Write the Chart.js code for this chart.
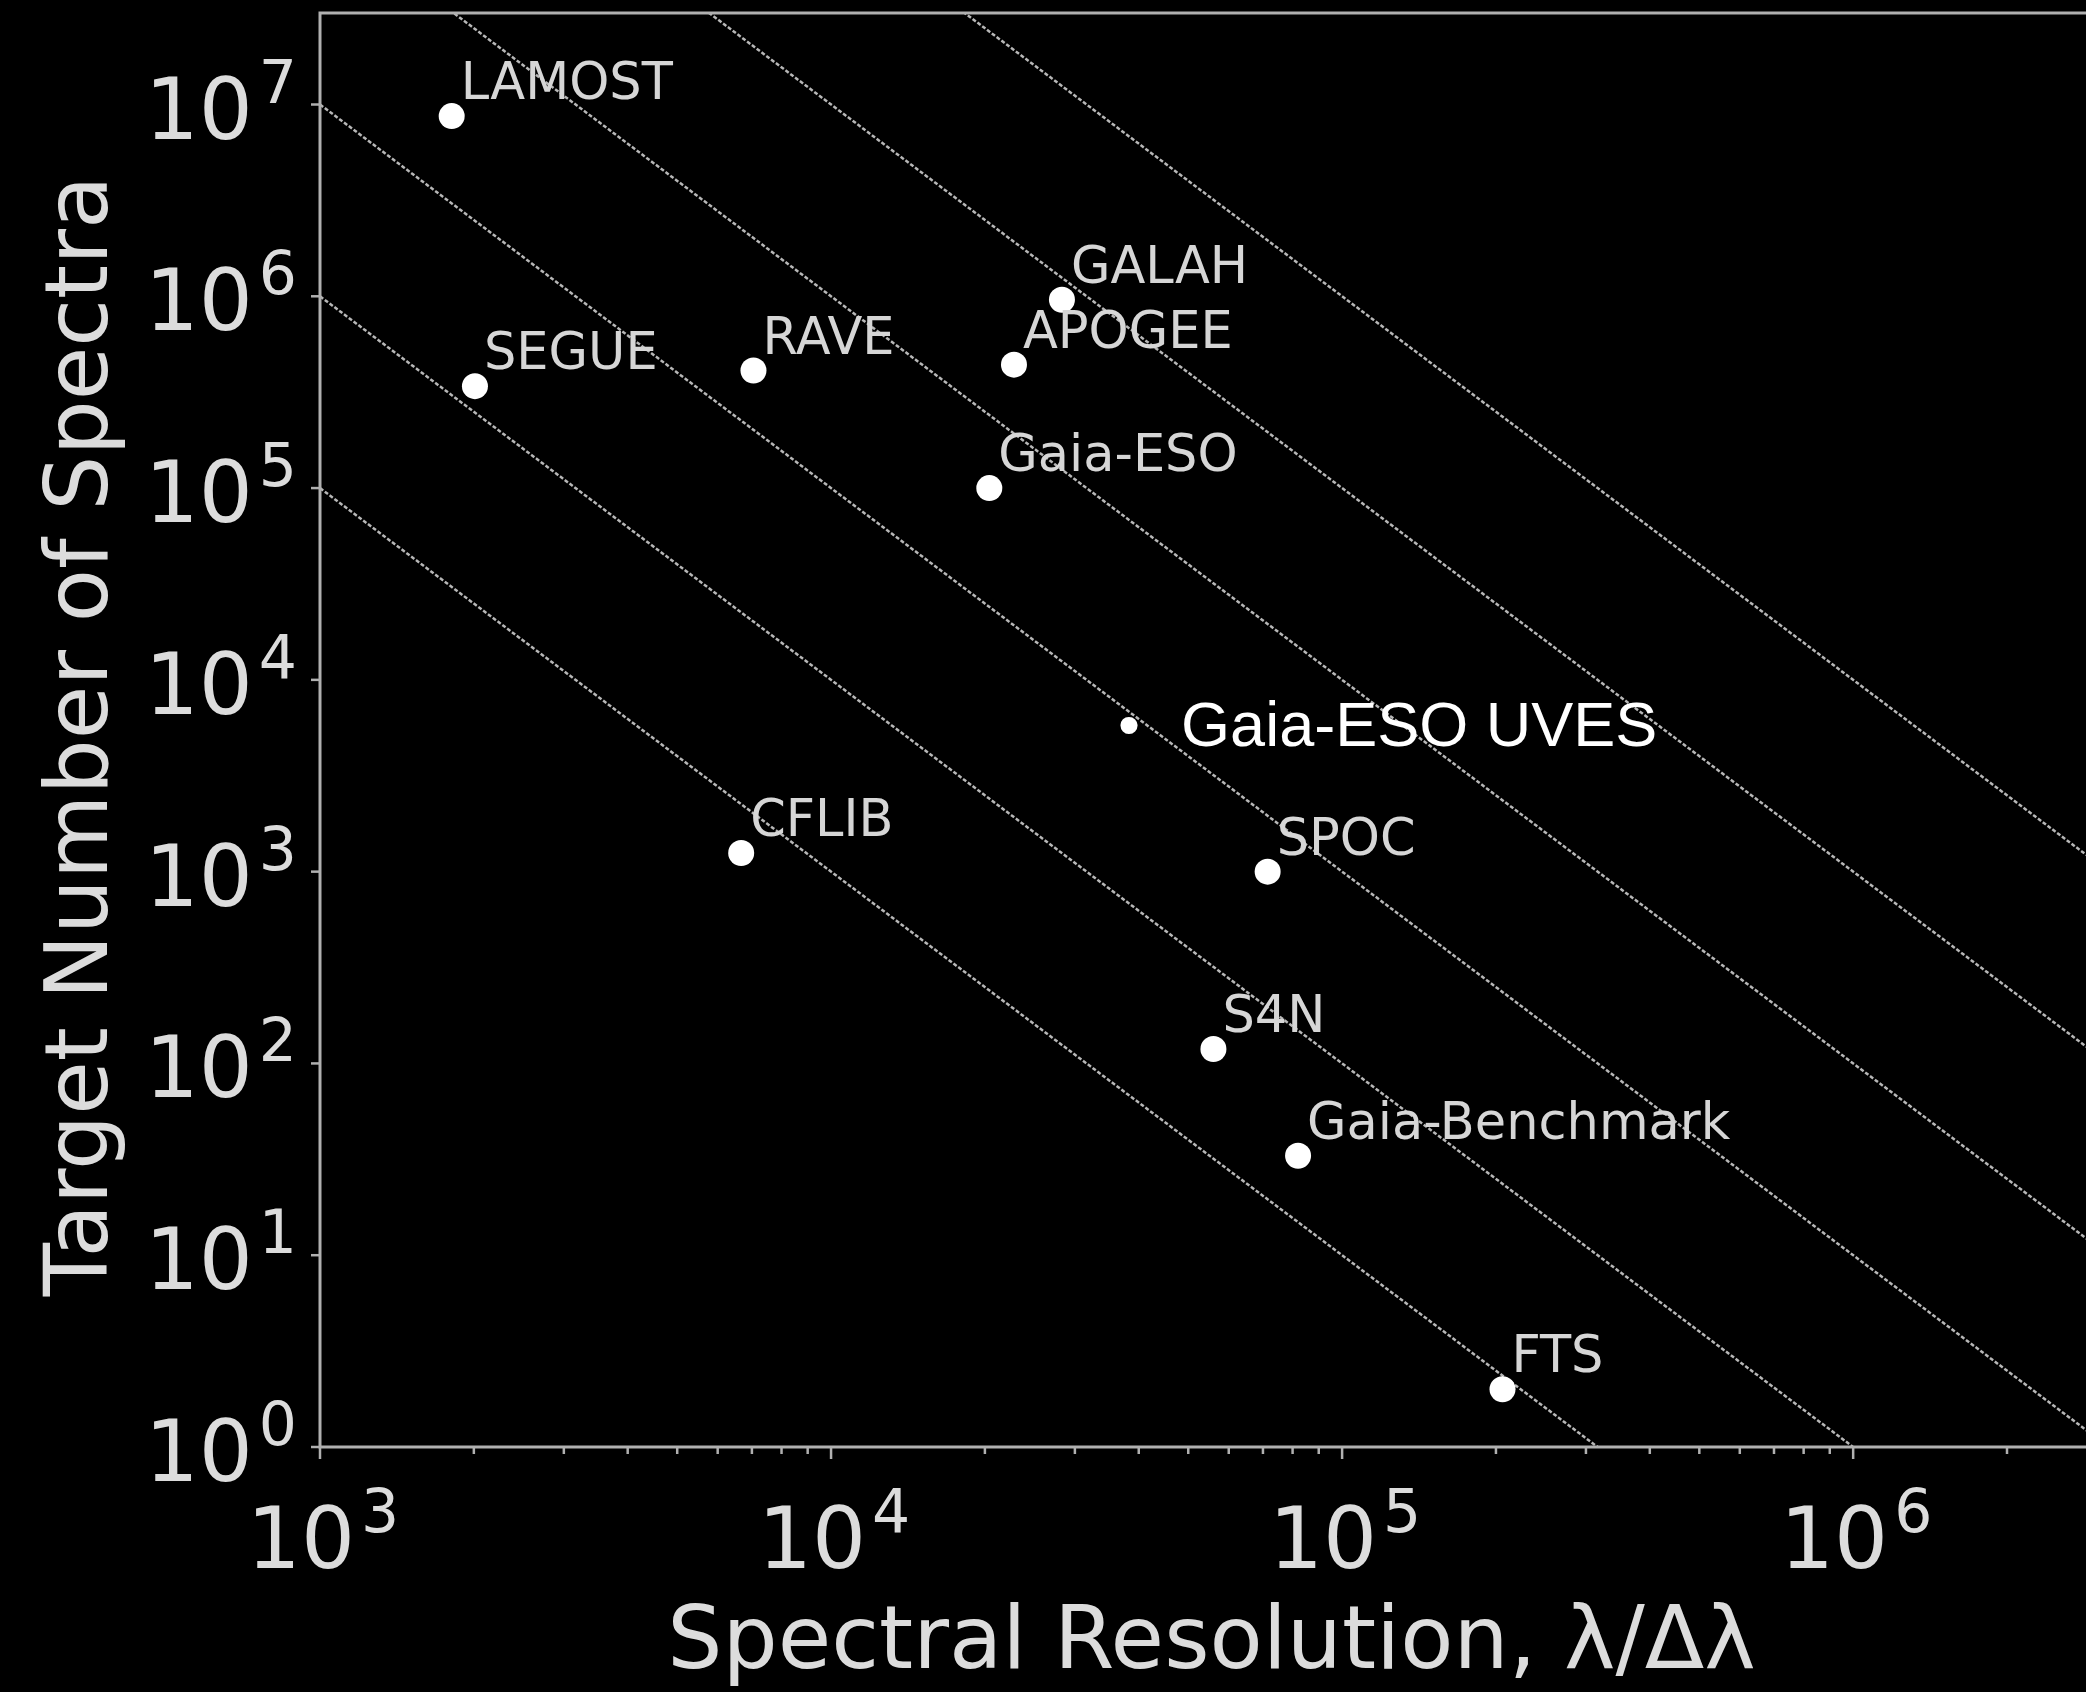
<!DOCTYPE html>
<html>
<head>
<meta charset="utf-8">
<script src="https://cdn.jsdelivr.net/npm/chart.js@4.4.0/dist/chart.umd.min.js"></script>
<style>
  html, body { margin: 0; padding: 0; background: #000; overflow: hidden; }
  #wrap { width: 2110px; height: 1692px; }
</style>
</head>
<body>
<div id="wrap"><canvas id="surveys" width="2110" height="1692"></canvas></div>
<script>
// survey data
const surveyNames = ['LAMOST', 'SEGUE', 'RAVE', 'GALAH', 'APOGEE', 'Gaia-ESO', 'CFLIB', 'SPOC', 'S4N', 'Gaia-Benchmark', 'FTS']
const resolution  = [1810, 2010, 7050, 28300, 22800, 20400, 6670, 71500, 56000, 82000, 206000]
const numSpectra  = [8.7e6, 3.4e5, 4.1e5, 9.6e5, 4.4e5, 1.0e5, 1250, 1000, 119, 33, 2]

// guide lines of constant R^2 * N
const productLevels = [1e11, 1e12, 1e13, 1e14, 1e15, 1e16]

const xLimits = [1e3, 3e6]
const yLimits = [1, 3e7]
const xTicks = [1e3, 1e4, 1e5, 1e6]
const yTicks = [1e0, 1e1, 1e2, 1e3, 1e4, 1e5, 1e6, 1e7]

const xTitle = 'Spectral Resolution, λ/Δλ'
const yTitle = 'Target Number of Spectra'

// extra note pasted on the slide
const noteText = 'Gaia-ESO UVES'
const notePos  = [38300, 5600]

const FONT = '"DejaVu Sans", sans-serif'
const TEXT = '#dcdcdc'
const SPINE = '#b0b0b0'

const surveyPoints = resolution.map((r, i) => ({ x: r, y: numSpectra[i] }))

const guideSets = productLevels.map(c => ({
    type: 'scatter',
    showLine: true,
    data: [
        { x: xLimits[0], y: c / (xLimits[0] * xLimits[0]) },
        { x: xLimits[1], y: c / (xLimits[1] * xLimits[1]) }
    ],
    borderColor: 'rgba(215,215,215,0.85)',
    borderWidth: 2.5,
    borderDash: [4, 2],
    pointRadius: 0,
    order: 2
}))

function drawPow(ctx, x, baseline, exp, align) {
    ctx.font = '85px ' + FONT
    const w1 = ctx.measureText('10').width
    ctx.font = '60px ' + FONT
    const w2 = ctx.measureText(exp).width
    const gap = 6
    const total = w1 + gap + w2
    let left = x
    if (align === 'center') left = x - total / 2
    if (align === 'right') left = x - total
    ctx.textAlign = 'left'
    ctx.textBaseline = 'alphabetic'
    ctx.font = '85px ' + FONT
    ctx.fillText('10', left, baseline)
    ctx.font = '60px ' + FONT
    ctx.fillText(exp, left + w1 + gap, baseline - 36)
}

const axesPlugin = {
    id: 'axesDecor',
    afterDatasetsDraw(chart) {
        const ctx = chart.ctx
        const area = chart.chartArea
        const xs = chart.scales.x
        const ys = chart.scales.y
        ctx.save()

        // point labels
        const meta = chart.getDatasetMeta(0)
        ctx.fillStyle = '#d6d6d6'
        ctx.font = '51px ' + FONT
        ctx.textAlign = 'left'
        ctx.textBaseline = 'alphabetic'
        meta.data.forEach((pt, i) => {
            ctx.fillText(surveyNames[i], pt.x + 9, pt.y - 17)
        })

        // frame
        ctx.strokeStyle = SPINE
        ctx.lineWidth = 3
        ctx.strokeRect(area.left, area.top, area.right - area.left, area.bottom - area.top)

        // x ticks, major and minor
        ctx.lineWidth = 2.5
        for (let e = 3; e <= 6; e++) {
            for (let k = 1; k <= 9; k++) {
                const v = k * Math.pow(10, e)
                if (v > xLimits[1]) break
                const px = xs.getPixelForValue(v)
                ctx.beginPath()
                ctx.moveTo(px, area.bottom)
                ctx.lineTo(px, area.bottom + (k === 1 ? 12 : 7))
                ctx.stroke()
            }
        }
        yTicks.forEach(v => {
            const py = ys.getPixelForValue(v)
            ctx.beginPath()
            ctx.moveTo(area.left - 9, py)
            ctx.lineTo(area.left, py)
            ctx.stroke()
        })

        // tick labels
        ctx.fillStyle = TEXT
        xTicks.forEach(v => {
            const px = xs.getPixelForValue(v)
            drawPow(ctx, px + 3, area.bottom + 121, String(Math.round(Math.log10(v))), 'center')
        })
        yTicks.forEach(v => {
            const py = ys.getPixelForValue(v)
            drawPow(ctx, area.left - 23, py + 34, String(Math.round(Math.log10(v))), 'right')
        })

        // axis titles
        ctx.font = '87px ' + FONT
        ctx.textAlign = 'center'
        ctx.textBaseline = 'alphabetic'
        ctx.fillText(xTitle, (area.left + area.right) / 2 + 3, area.bottom + 221)
        ctx.save()
        ctx.translate(107, (area.top + area.bottom) / 2 + 6)
        ctx.rotate(-Math.PI / 2)
        ctx.fillText(yTitle, 0, 0)
        ctx.restore()

        // slide note
        const nx = xs.getPixelForValue(notePos[0])
        const ny = ys.getPixelForValue(notePos[1])
        ctx.fillStyle = '#ffffff'
        ctx.font = '63px "Liberation Sans", Arial, sans-serif'
        ctx.textBaseline = 'middle'
        ctx.textAlign = 'center'
        ctx.fillText('•', nx, ny)
        ctx.textAlign = 'left'
        ctx.fillText(noteText, nx + 52, ny)

        ctx.restore()
    }
}

new Chart(document.getElementById('surveys'), {
    type: 'scatter',
    data: {
        datasets: [{
            label: 'Surveys',
            data: surveyPoints,
            backgroundColor: '#ffffff',
            borderWidth: 0,
            pointRadius: 13,
            order: 0
        }].concat(guideSets)
    },
    options: {
        responsive: false,
        animation: false,
        devicePixelRatio: 1,
        layout: { padding: { left: 320, right: 3, top: 13, bottom: 245 } },
        plugins: { legend: { display: false }, tooltip: { enabled: false } },
        scales: {
            x: {
                type: 'logarithmic',
                min: xLimits[0],
                max: xLimits[1],
                ticks: { display: false },
                grid: { display: false },
                border: { display: false },
                afterFit: s => { s.height = 0 }
            },
            y: {
                type: 'logarithmic',
                min: yLimits[0],
                max: yLimits[1],
                ticks: { display: false },
                grid: { display: false },
                border: { display: false },
                afterFit: s => { s.width = 0 }
            }
        }
    },
    plugins: [axesPlugin]
})
</script>
</body>
</html>
